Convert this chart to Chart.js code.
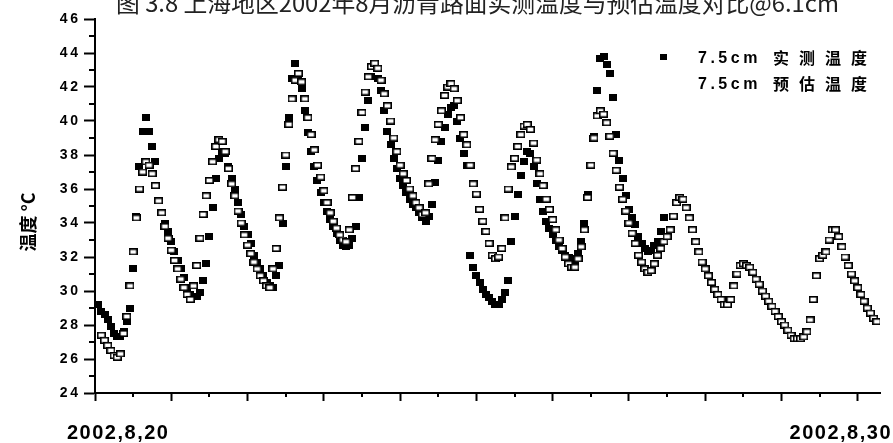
<!DOCTYPE html>
<html>
<head>
<meta charset="utf-8">
<script src="https://cdn.jsdelivr.net/npm/chart.js@4.4.0/dist/chart.umd.min.js"></script>
<style>
  html, body { margin: 0; padding: 0; background: #fff; }
  #wrap { width: 893px; height: 443px; }
</style>
</head>
<body>
<div id="wrap"><canvas id="chart" width="893" height="443"></canvas></div>
<script>
// =============================================
// DADOS (hora a hora desde 2002-08-20 00:00)
// =============================================
const chartTitle   = '图 3.8 上海地区2002年8月沥青路面实测温度与预估温度对比@6.1cm';
const yAxisTitle   = '温度 °C';
const dateLabels   = ['2002,8,20', '2002,8,30'];
const seriesDepth  = ['7.5cm', '7.5cm'];
const seriesNames  = ['实测温度', '预估温度'];

const measured = [
  null, 29.2, 28.8, 28.6, 28.3, 27.9, 27.5, 27.3, 27.3, 27.6, 28.2, 29.0, 31.3, 34.4, 37.3, 39.4,
  40.2, 39.4, 38.5, 37.6, 35.3, 34.6, 34.0, 33.5, 32.9, 32.3, 31.8, 31.3, 30.8, 30.2, 29.8, 29.7,
  29.7, 29.9, 30.6, 31.6, 33.2, 34.9, 36.6, 37.8, 38.2, 38.1, 37.3, 36.6, 36.0, 35.2, 34.5, 33.8,
  33.3, 32.8, 32.1, 31.7, 31.3, 30.9, 30.5, 30.3, 30.2, 30.9, 31.5, 34.0, 37.3, 40.2, 42.5, 43.4,
  42.7, 41.9, 40.6, 39.3, 38.2, 37.3, 36.5, 35.8, 35.2, 34.7, 34.2, 33.8, 33.4, 33.0, 32.7, 32.6,
  32.7, 33.1, 33.8, 35.5, 37.8, 39.6, 41.2, 42.6, 43.2, 42.5, 41.8, 40.6, 39.4, 38.6, 37.8, 37.2,
  36.6, 36.2, 35.8, 35.4, 35.1, 34.9, 34.6, 34.3, 34.1, 34.4, 35.1, 36.4, 37.7, 38.8, 39.6, 40.4,
  40.8, 40.9, 40.0, 39.0, 38.1, 37.4, 32.1, 31.4, 30.9, 30.5, 30.1, 29.8, 29.6, 29.4, 29.2, 29.2,
  29.5, 29.9, 30.6, 32.9, 34.4, 35.7, 36.8, 37.6, 38.2, 38.1, 37.3, 36.3, 35.4, 34.7, 34.1, 33.7,
  33.3, 33.0, 32.6, 32.4, 32.1, 32.0, 31.9, 31.8, 32.2, 32.9, 34.0, 35.7, 37.4, 39.1, 41.8, 43.7,
  43.8, 43.3, 42.8, 41.4, 39.2, 37.7, 36.6, 35.6, 34.8, 34.3, 33.9, 33.2, 32.8, 32.5, 32.3, 32.4,
  32.7, 32.9, 33.5, 34.3
];

const predicted = [
  null, null, 27.4, 27.1, 26.8, 26.5, 26.2, 26.1, 26.3, 27.5, 28.5, 30.3, 32.3, 34.3, 36.0, 37.0,
  37.6, 37.4, 36.9, 36.2, 35.3, 34.6, 33.8, 33.1, 32.4, 31.8, 31.3, 30.7, 30.2, 29.8, 29.5, 30.3,
  31.5, 33.1, 34.5, 35.6, 36.5, 37.6, 38.5, 38.9, 38.8, 38.2, 37.2, 36.3, 35.6, 34.7, 34.0, 33.3,
  32.7, 32.2, 31.7, 31.3, 30.9, 30.6, 30.3, 30.2, 31.3, 32.5, 34.3, 36.1, 38.0, 39.8, 41.3, 42.4,
  42.8, 42.3, 41.3, 40.2, 39.2, 38.3, 37.4, 36.7, 35.9, 35.2, 34.6, 34.1, 33.7, 33.3, 33.0, 32.9,
  33.6, 35.5, 37.2, 38.8, 40.5, 41.7, 42.6, 43.2, 43.4, 43.1, 42.4, 41.6, 40.9, 40.0, 39.0, 38.2,
  37.4, 36.9, 36.5, 36.0, 35.6, 35.2, 34.9, 34.5, 34.6, 36.3, 37.8, 38.9, 39.8, 40.6, 41.5, 42.0,
  42.2, 41.9, 41.2, 40.2, 39.2, 38.6, 37.4, 36.3, 35.7, 34.8, 34.1, 33.5, 32.8, 32.1, 31.9, 32.0,
  32.5, 34.3, 36.0, 37.3, 37.8, 38.5, 39.2, 39.7, 39.8, 39.5, 38.7, 37.7, 36.9, 36.2, 35.4, 34.8,
  34.2, 33.6, 33.0, 32.5, 32.0, 31.6, 31.4, 31.4, 31.9, 32.6, 33.6, 35.5, 37.4, 39.0, 40.3, 40.6,
  40.4, 39.9, 39.1, 38.1, 37.1, 36.1, 35.4, 34.7, 34.0, 33.4, 32.8, 32.1, 31.7, 31.3, 31.1, 31.2,
  31.6, 32.1, 32.5, 32.9, 33.2, 33.6, 34.4, 35.2, 35.5, 35.4, 34.9, 34.3, 33.6, 32.9, 32.3, 31.7,
  31.3, 30.9, 30.5, 30.1, 29.8, 29.5, 29.2, 29.2, 29.5, 30.3, 31.0, 31.5, 31.6, 31.5, 31.4, 31.1,
  30.7, 30.4, 30.0, 29.7, 29.4, 29.1, 28.8, 28.5, 28.2, 28.0, 27.7, 27.4, 27.2, 27.2, 27.2, 27.3,
  27.6, 28.3, 29.5, 30.9, 31.9, 32.1, 32.3, 33.0, 33.6, 33.6, 33.2, 32.6, 32.0, 31.5, 31.0, 30.6,
  30.2, 29.8, 29.4, 29.0, 28.7, 28.4, 28.2
];

const yTicks = { min: 24, max: 46, step: 2 };
const hoursPerDay = 24;
const xMaxHours = 247;

// =============================================
// MARCADORES
// =============================================
function makeMarker(filled) {
  const c = document.createElement('canvas');
  c.width = filled ? 8 : 9;
  c.height = filled ? 7 : 7;
  const g = c.getContext('2d');
  if (filled) {
    g.fillStyle = '#000';
    g.fillRect(0, 0, 8, 7);
  } else {
    g.fillStyle = '#fff';
    g.fillRect(0, 0, 9, 7);
    g.strokeStyle = '#000';
    g.lineWidth = 1.6;
    g.strokeRect(0.8, 0.8, 7.4, 5.4);
  }
  return c;
}
const filledMark = makeMarker(true);
const openMark   = makeMarker(false);

const toPoints = arr => arr.map((v, i) => ({ x: i, y: v })).filter(p => p.y !== null);

const spaced = s => String(s).split('').join('\u2009');

// =============================================
// TEXTOS E TRAÇOS MENORES
// =============================================
const decor = {
  id: 'decor',
  afterDraw(chart) {
    const { ctx, chartArea: a, scales: { x, y } } = chart;
    ctx.save();
    ctx.strokeStyle = '#000';
    ctx.lineWidth = 2;

    // traços menores
    for (let v = yTicks.min + 1; v < yTicks.max; v += yTicks.step) {
      const py = Math.round(y.getPixelForValue(v));
      ctx.beginPath(); ctx.moveTo(a.left - 6, py); ctx.lineTo(a.left, py); ctx.stroke();
    }
    for (let h = hoursPerDay / 2; h < xMaxHours; h += hoursPerDay) {
      const px = Math.round(x.getPixelForValue(h));
      ctx.beginPath(); ctx.moveTo(px, a.bottom); ctx.lineTo(px, a.bottom + 4); ctx.stroke();
    }

    ctx.fillStyle = '#000';

    // datas do eixo x
    ctx.font = 'bold 20px "Liberation Sans", Arial, sans-serif';
    ctx.letterSpacing = '1.5px';
    ctx.textBaseline = 'alphabetic';
    ctx.textAlign = 'left';
    ctx.fillText(dateLabels[0], 67, 439);
    ctx.textAlign = 'right';
    ctx.fillText(dateLabels[1], 892, 439);

    // título do eixo y
    ctx.letterSpacing = '0px';
    ctx.save();
    ctx.translate(28, 222);
    ctx.rotate(-Math.PI / 2);
    ctx.textAlign = 'center';
    ctx.textBaseline = 'middle';
    ctx.font = 'bold 18px "Noto Sans CJK SC", sans-serif';
    ctx.fillText(yAxisTitle, 0, 0);
    ctx.restore();

    // título (cortado no topo)
    ctx.fillStyle = '#222';
    ctx.font = '23px "Noto Sans CJK SC", sans-serif';
    const w = ctx.measureText(chartTitle).width;
    const size = 23 * 724 / w;
    ctx.font = size.toFixed(1) + 'px "Noto Sans CJK SC", sans-serif';
    ctx.textAlign = 'left';
    ctx.textBaseline = 'alphabetic';
    ctx.fillText(chartTitle, 116, 12);

    // legenda
    ctx.fillStyle = '#000';
    ctx.fillRect(660, 54, 7, 6);
    seriesNames.forEach((name, i) => {
      const by = 63 + i * 26;
      ctx.textAlign = 'left';
      ctx.font = 'bold 16px "Liberation Sans", Arial, sans-serif';
      ctx.letterSpacing = '3.5px';
      ctx.fillText(seriesDepth[i], 698, by);
      ctx.font = 'bold 16px "Noto Sans CJK SC", sans-serif';
      ctx.letterSpacing = '10px';
      ctx.fillText(name, 773, by + 1);
    });
    ctx.restore();
  }
};

// =============================================
// GRÁFICO
// =============================================
new Chart(document.getElementById('chart'), {
  type: 'scatter',
  data: {
    datasets: [
      {
        label: seriesDepth[0] + ' ' + seriesNames[0],
        data: toPoints(measured),
        pointStyle: filledMark,
        pointRadius: 4,
        order: 1
      },
      {
        label: seriesDepth[1] + ' ' + seriesNames[1],
        data: toPoints(predicted),
        pointStyle: openMark,
        pointRadius: 4,
        order: 0
      }
    ]
  },
  options: {
    responsive: false,
    animation: false,
    layout: { padding: { left: 0, right: 13, top: 19, bottom: 0 } },
    plugins: { legend: { display: false }, tooltip: { enabled: false } },
    scales: {
      x: {
        type: 'linear',
        min: 0,
        max: xMaxHours,
        afterFit: s => { s.height = 50; },
        grid: { drawOnChartArea: false, tickLength: 8, tickWidth: 2, tickColor: '#000' },
        border: { color: '#000', width: 2 },
        ticks: { stepSize: hoursPerDay, includeBounds: false, autoSkip: false, callback: () => '' }
      },
      y: {
        min: yTicks.min,
        max: yTicks.max,
        afterFit: s => { s.width = 95; },
        grid: { drawOnChartArea: false, tickLength: 11, tickWidth: 2, tickColor: '#000' },
        border: { color: '#000', width: 2 },
        ticks: {
          stepSize: yTicks.step,
          padding: 6,
          color: '#000',
          font: { family: '"Liberation Sans", Arial, sans-serif', size: 14, weight: 'bold' },
          callback: v => spaced(v)
        }
      }
    }
  },
  plugins: [decor]
});
</script>
</body>
</html>
